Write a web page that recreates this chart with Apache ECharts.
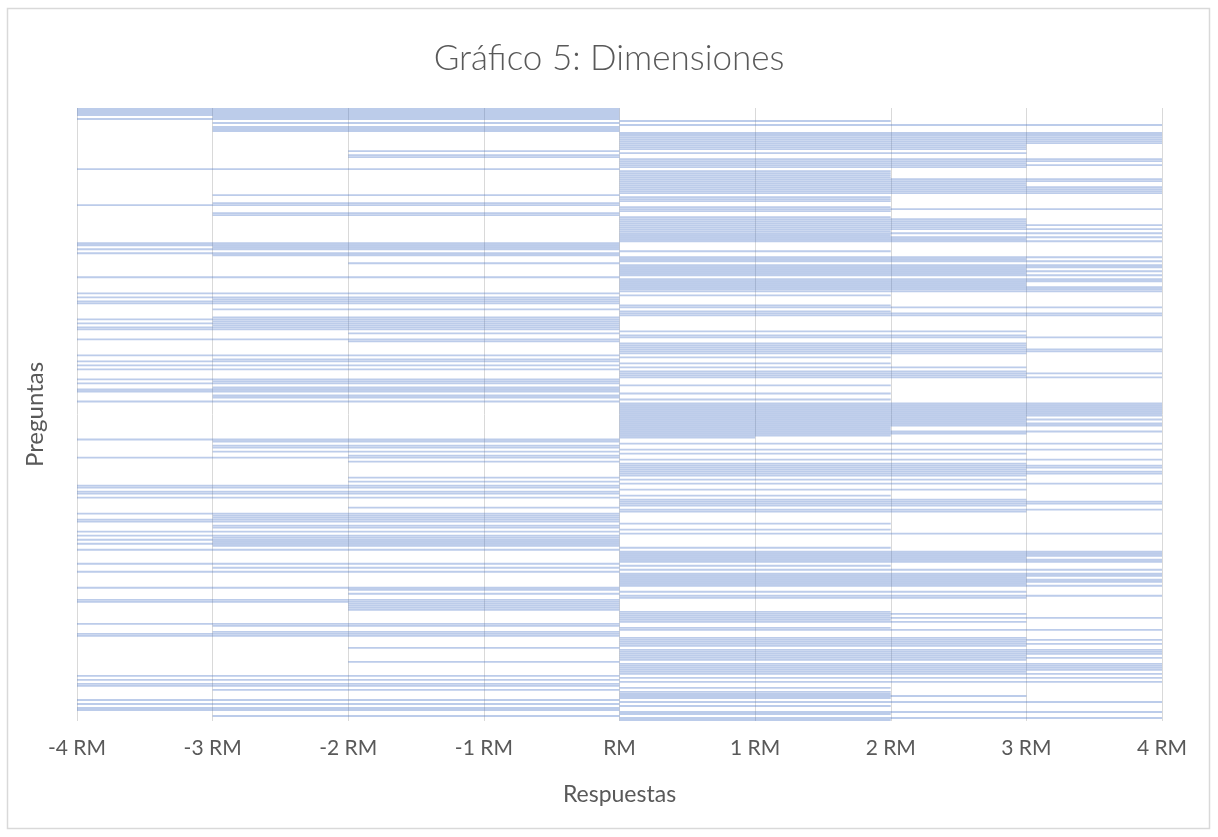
<!DOCTYPE html>
<html>
<head>
<meta charset="utf-8">
<script src="https://cdn.jsdelivr.net/npm/echarts@6/dist/echarts.min.js"></script>
<style>
html,body{margin:0;padding:0;background:#fff;}
#chart{width:1218px;height:837px;}
</style>
</head>
<body>
<div id="chart"></div>
<script>
// Values, top row first (0 = no bar)
const values = [
  -4,-4,-4,-4,-3,-4,2,-3,4,-3,
  -3,-3,4,4,4,4,4,4,3,3,
  3,-2,3,-2,-2,4,4,3,4,3,
  -4,2,2,2,2,4,4,3,3,4,
  4,4,4,-3,2,2,2,-3,-4,2,
  4,2,-3,-3,2,3,3,3,4,3,
  4,2,4,2,4,3,4,-4,-4,-3,
  -4,2,-4,-3,4,3,4,-2,4,4,
  3,4,3,4,-4,4,4,3,3,4,
  4,4,-4,2,-4,-3,-4,-4,2,4,
  -3,2,4,4,-3,-4,-3,-4,-3,-4,
  -4,3,-2,3,4,-4,-2,3,3,3,
  4,4,3,-4,2,-3,-4,2,-4,3,
  -4,3,4,3,4,-4,-3,-4,2,-3,
  -4,-4,2,-3,-3,2,-4,4,4,4,
  4,4,4,4,3,4,3,4,4,2,
  2,4,3,2,1,-4,-3,4,-3,-3,
  4,-3,3,-2,-4,4,-2,3,4,4,
  3,4,4,3,-2,3,-2,4,-4,-4,
  3,-4,-4,2,-4,3,4,4,3,-2,
  4,3,-4,-3,-3,-4,-4,2,-3,-3,
  2,-4,4,-4,-3,-4,-3,-4,-3,2,
  -4,4,4,4,3,4,4,-4,2,-3,
  4,-4,4,4,3,4,4,3,4,-4,
  -2,3,-2,4,3,-4,-4,-2,-2,-2,
  -2,2,3,2,4,2,3,-4,-3,2,
  4,-3,-4,-4,3,4,3,4,3,-2,
  4,4,4,3,4,3,-2,4,4,4,
  4,3,4,-4,4,-4,4,-4,-4,2,
  -3,2,2,3,2,-4,4,-4,2,-4,
  -4,4,2,-3,4,2
];
const categories = values.map((_, i) => 'P' + (i + 1));
const xTickLabels = ['-4 RM','-3 RM','-2 RM','-1 RM','RM','1 RM','2 RM','3 RM','4 RM'];
const titleText = 'Gráfico 5: Dimensiones';
const xName = 'Respuestas';
const yName = 'Preguntas';

const FONT = 'Lato';
const chart = echarts.init(document.getElementById('chart'), null, {renderer: 'canvas'});
chart.setOption({
  animation: false,
  backgroundColor: '#fff',
  title: {
    text: titleText,
    left: 'center',
    top: 36,
    textStyle: {fontFamily: FONT, fontSize: 35, fontWeight: 300, color: '#595959'}
  },
  graphic: [{
    type: 'rect',
    shape: {x: 7.5, y: 8.5, width: 1202, height: 820},
    style: {fill: 'none', stroke: '#d9d9d9', lineWidth: 1.5},
    silent: true
  }],
  grid: {left: 77, right: 56, top: 108, bottom: 116},
  xAxis: {
    type: 'value',
    min: -4, max: 4, interval: 1,
    name: xName,
    nameLocation: 'middle',
    nameGap: 62,
    nameTextStyle: {fontFamily: FONT, fontSize: 23, color: '#595959'},
    axisLine: {show: false},
    axisTick: {show: false},
    axisLabel: {
      margin: 17,
      fontFamily: FONT, fontSize: 21, color: '#595959',
      formatter: v => xTickLabels[Math.round(v) + 4]
    },
    splitLine: {show: true, lineStyle: {color: '#d9d9d9', width: 1}}
  },
  yAxis: {
    type: 'category',
    data: categories,
    inverse: true,
    name: yName,
    nameLocation: 'middle',
    nameGap: 30,
    nameRotate: 90,
    nameTextStyle: {fontFamily: FONT, fontSize: 24, color: '#595959'},
    axisLine: {show: false},
    axisTick: {show: false},
    axisLabel: {show: false},
    splitLine: {show: false}
  },
  series: [{
    type: 'bar',
    data: values,
    barCategoryGap: '8%',
    itemStyle: {color: 'rgba(68,114,196,0.36)'},
    silent: true
  }]
});
</script>
</body>
</html>
